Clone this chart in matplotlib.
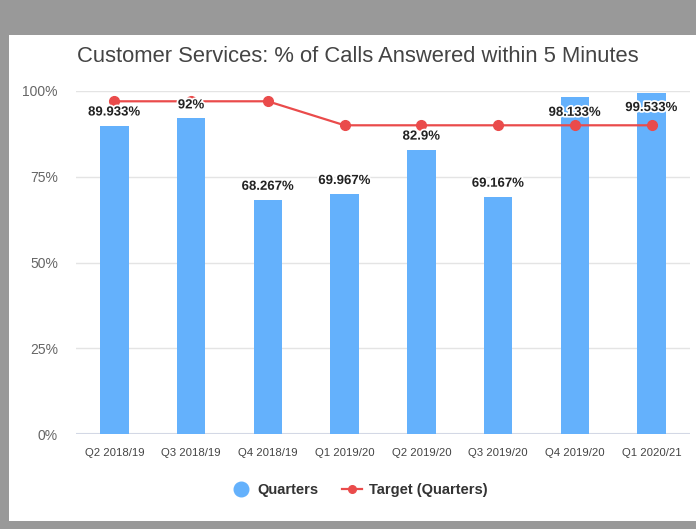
import numpy as np
import matplotlib.pyplot as plt
import matplotlib.patheffects as pe
from matplotlib.patches import Rectangle
from matplotlib.lines import Line2D

quarters = ['Q2 2018/19', 'Q3 2018/19', 'Q4 2018/19', 'Q1 2019/20',
            'Q2 2019/20', 'Q3 2019/20', 'Q4 2019/20', 'Q1 2020/21']
answered = [89.933, 92, 68.267, 69.967, 82.9, 69.167, 98.133, 99.533]
bar_labels = ['89.933%', '92%', '68.267%', '69.967%', '82.9%', '69.167%', '98.133%', '99.533%']
target = [97, 97, 97, 90, 90, 90, 90, 90]
yticks = [0, 25, 50, 75, 100]
ytick_labels = ['0%', '25%', '50%', '75%', '100%']

plt.rcParams['font.family'] = ['Liberation Sans', 'DejaVu Sans']

bar_col = '#64b1fc'
line_col = '#ea4b4b'

fig = plt.figure(figsize=(6.96, 5.29), dpi=100)
fig.patch.set_facecolor('#999999')
W, H = 696, 529
# white chart panel inside gray frame
fig.patches.append(Rectangle((9 / W, 1 - 521 / H), (W - 9) / W, (521 - 35) / H,
                             transform=fig.transFigure, facecolor='white',
                             edgecolor='none', zorder=-5))

ax = fig.add_axes([76 / W, 1 - 434 / H, (690 - 76) / W, (434 - 91) / H])
ax.set_facecolor('none')
x = np.arange(len(quarters))

ax.bar(x, answered, width=0.37, color=bar_col, zorder=2)
ax.plot(x, target, color=line_col, lw=1.6, marker='o', ms=7, zorder=3)

# labels go above the bar, or just inside it when there is no room at the top
for xi, v, lab in zip(x, answered, bar_labels):
    ly = v + 3.8 if v + 3.8 < 97 else v - 4.5
    ax.text(xi, ly, lab, ha='center', va='center', fontsize=9.5,
            fontweight='bold', color='#222222', zorder=4,
            path_effects=[pe.withStroke(linewidth=2.5, foreground='white')])

ax.set_xlim(-0.5, len(quarters) - 0.5)
ax.set_ylim(0, 100)
ax.set_yticks(yticks)
ax.set_yticklabels(ytick_labels, color='#666666', fontsize=10)
ax.set_xticks(x)
ax.set_xticklabels(quarters, color='#444444', fontsize=8.2)
ax.tick_params(length=0)
ax.tick_params(axis='x', pad=10)
ax.tick_params(axis='y', pad=13)
ax.grid(axis='y', color='#e4e4e4', lw=1, zorder=0)
for s in ax.spines.values():
    s.set_visible(False)
ax.axhline(0, color='#cfd6e6', lw=1.5, zorder=1)

fig.text(358 / W, 1 - 57 / H, 'Customer Services: % of Calls Answered within 5 Minutes',
         ha='center', va='center', fontsize=15.8, color='#444444')

handles = [Line2D([], [], ls='none', marker='o', ms=10.5, color=bar_col),
           Line2D([], [], color=line_col, lw=1.6, marker='o', ms=5.5)]
fig.legend(handles, ['Quarters', 'Target (Quarters)'], loc='center',
           bbox_to_anchor=(359 / W, 1 - 490 / H), ncol=2, frameon=False,
           prop={'size': 10.5, 'weight': 'bold'},
           handlelength=1.4, columnspacing=1.6, handletextpad=0.45,
           labelcolor='#333333')

fig.savefig('out.png', dpi=100, facecolor=fig.get_facecolor())
